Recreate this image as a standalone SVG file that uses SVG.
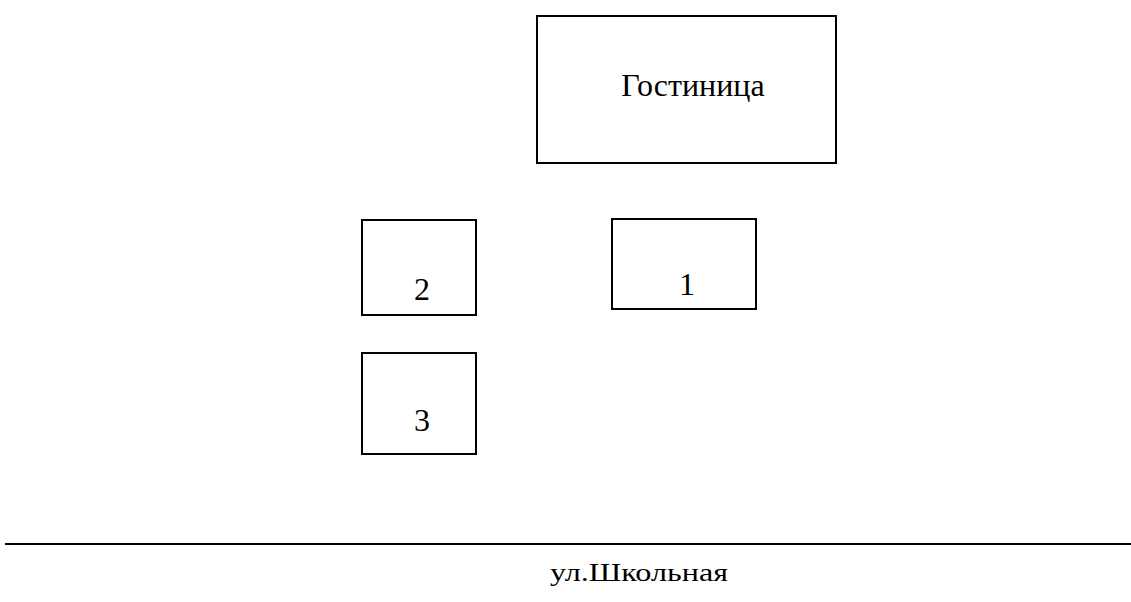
<svg xmlns="http://www.w3.org/2000/svg" width="1131" height="602" viewBox="0 0 1131 602">
<style>
.box{fill:#fff;stroke:#000;stroke-width:2}
.t{font-family:"Liberation Serif","Times New Roman",serif;fill:#000;text-anchor:middle}
</style>
<rect width="1131" height="602" fill="#fff"/>
<g id="hotel"><rect class="box" x="537" y="16" width="299" height="147"/><text class="t" x="693" y="96" font-size="32">Гостиница</text></g>
<g id="b2"><rect class="box" x="362" y="220" width="114" height="95"/><text class="t" x="422" y="300" font-size="32">2</text></g>
<g id="b1"><rect class="box" x="612" y="219" width="144" height="90"/><text class="t" x="687" y="295" font-size="32">1</text></g>
<g id="b3"><rect class="box" x="362" y="353" width="114" height="101"/><text class="t" x="422" y="431" font-size="32">3</text></g>
<g id="street"><line x1="5" y1="544" x2="1131" y2="544" stroke="#000" stroke-width="2"/><text class="t" x="639" y="581" font-size="25" textLength="178" lengthAdjust="spacingAndGlyphs">ул.Школьная</text></g>
</svg>
